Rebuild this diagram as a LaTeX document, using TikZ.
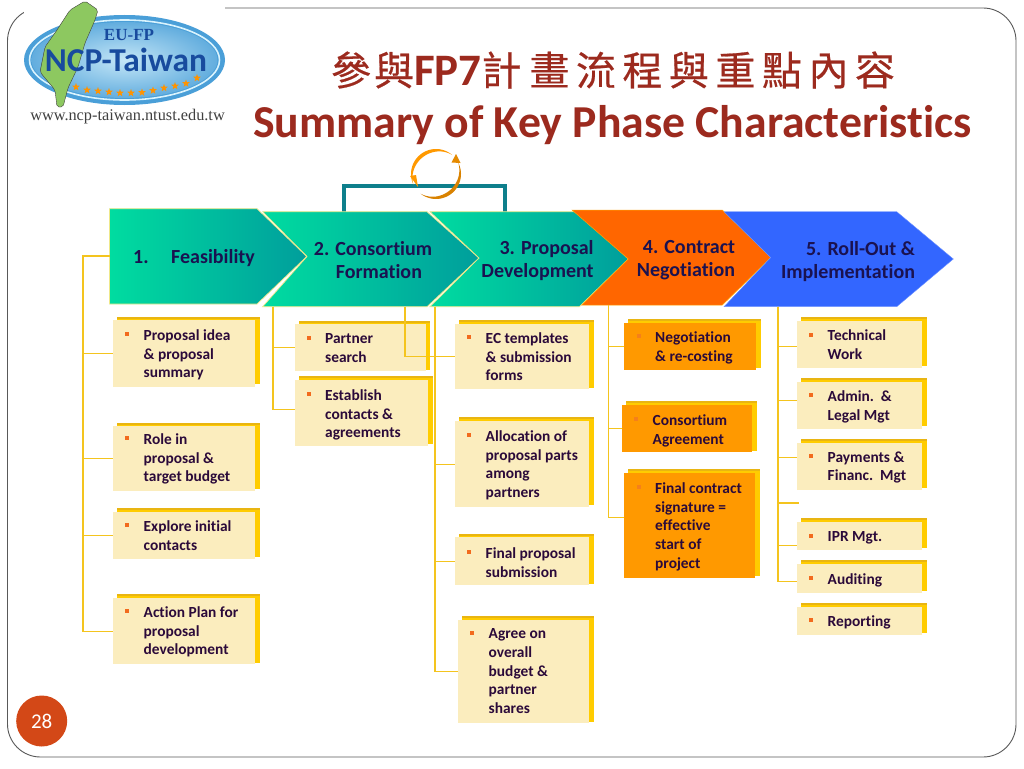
\documentclass[tikz,border=0pt]{standalone}
\usepackage{fontspec}
\setmainfont[Ligatures=NoCommon]{Carlito}
\newfontfamily\cjk[FakeBold=0.5]{Noto Sans CJK TC}
\newfontfamily\srf{Liberation Serif}
\usetikzlibrary{calc,shapes.geometric}
\definecolor{goldl}{HTML}{F4C41E}
\definecolor{goldb}{HTML}{FFCC00}
\definecolor{goldt}{HTML}{E9B512}
\definecolor{cream}{HTML}{FBEDBE}
\definecolor{orgb}{HTML}{FF9900}
\definecolor{ink}{HTML}{2B0A3A}
\definecolor{navy}{HTML}{1A1250}
\definecolor{titlec}{HTML}{9C2A1E}
\definecolor{blt}{HTML}{F26B1D}
\definecolor{blo}{HTML}{F5801A}
\definecolor{teal1}{HTML}{00DCA0}
\definecolor{teal2}{HTML}{009E9C}
\definecolor{bracket}{HTML}{0E7F8C}
\definecolor{edgey}{HTML}{EFE88A}
\definecolor{org4}{HTML}{FF6600}
\definecolor{blue5}{HTML}{3366FF}
\definecolor{logob}{HTML}{184B9E}
\definecolor{island}{HTML}{8DC860}
\definecolor{pagec}{HTML}{D34817}
\definecolor{logoin}{HTML}{C4E6F7}
\definecolor{logoout}{HTML}{4A9FD8}
\tikzset{
 lbl/.style={font=\bfseries\fontsize{15.4}{18.8}\selectfont,text=ink,align=left,anchor=north west,inner sep=0pt},
 blet/.style={fill=#1,draw=none,minimum size=4pt,inner sep=0pt},
 conn/.style={draw=goldl,line width=1.1pt},
 arrtxt/.style={font=\bfseries\fontsize{20}{23}\selectfont,text=navy,inner sep=0pt},
 tealarrow/.style={left color=teal1,middle color=teal1!78!teal2,right color=teal2,draw=edgey,line width=.7pt},
}
% name, fill, front x0 y0 x1 y1, back x1 y0 y1
\newcommand{\bx}[9]{%
 \fill[goldb] (#3+4,#8) rectangle (#7,#9);
 \fill[goldt] (#3+4,#8) rectangle (#7,#8+1.5);
 \node[fill=#2,inner sep=0pt,anchor=north west,minimum width={(#5-#3)*1pt},minimum height={(#6-#4)*1pt}] (#1) at (#3,#4) {};
}
% name, bullet colour, text x, first line centre y, text
\newcommand{\lb}[5]{%
 \node[blet=#2] (#1bl) at (#3-16.5,#4-1) {};
 \node[lbl] (#1tx) at (#3,#4-5.8) {\rule{0pt}{10pt}#5};
}
% tapered arc: colour, from, to
\newcommand{\crescent}[3]{%
 \fill[#1] plot[domain=#2:#3,samples=30,variable=\t] ({436+25*cos(\t)},{174-25*sin(\t)})
   -- plot[domain=#3:#2,samples=30,variable=\t] ({436+(25-3.6*sin(180/(#3-#2)*(\t-#2)))*cos(\t)},{174-(25-3.6*sin(180/(#3-#2)*(\t-#2)))*sin(\t)}) -- cycle;
}
\begin{document}
\begin{tikzpicture}[x=1pt,y=-1pt]
\useasboundingbox (0,0) rectangle (1024,768);
\fill[white] (0,0) rectangle (1024,768);
% frame
\draw[draw=black!65,line width=.9pt,rounded corners=33pt] (7.5,8) rectangle (1016,757);
\fill[white] (24,0) rectangle (225,128);
% logo
\fill[logoout] (124.5,60) ellipse [x radius=100.5pt,y radius=45pt];
\draw[white!85!cyan,line width=1.6pt] (124.5,60) ellipse [x radius=95pt,y radius=40pt];
\shade[inner color=logoin,outer color=logoout!80!logoin] (124.5,60) ellipse [x radius=93pt,y radius=38pt];
\fill[island,draw=black!75,line width=.4pt,rounded corners=2pt] (85,1) -- (98,10) -- (95,20) -- (85,43) -- (78,67) -- (68,88) -- (63,107) -- (57,107) -- (55,90) -- (40,72) -- (45,47) -- (57,30) -- (70,10) -- cycle;
\foreach \i/\xx/\yy in {1/76/87,2/87/90,3/98/91,4/109/92,5/120/93,6/131/93,7/142/92.5,8/153/90.5,9/164/88,10/175/86,11/186/83.5,12/197/78}{
 \node[star,star points=5,star point ratio=2.4,fill=orange!85!yellow,inner sep=0pt,minimum size=8pt] (st\i) at (\xx,\yy) {};
}
\node[font=\bfseries\fontsize{17}{17}\srf,text=logob,inner sep=0pt] (eu) at (129,35) {EU-FP};
\node[font=\bfseries\fontsize{33.4}{30}\selectfont,text=logob,inner sep=0pt] (ncp) at (126,60) {NCP-Taiwan};
\node[font=\fontsize{16.3}{16.3}\srf,text=black!75,inner sep=0pt] (url) at (127.5,117) {www.ncp-taiwan.ntust.edu.tw};
% title
\node[font=\fontsize{40}{40}\selectfont,text=titlec,inner sep=0pt] (t1) at (613,70) {{\cjk 參\hspace{3pt}與}{\fontsize{45}{45}\selectfont\textbf{FP7}}{\cjk 計\hspace{8pt}畫\hspace{6.5pt}流\hspace{6.5pt}程\hspace{6.5pt}與\hspace{6.5pt}重\hspace{6.5pt}點\hspace{6.5pt}內\hspace{6.5pt}容}};
\node[font=\bfseries\fontsize{45.7}{46}\selectfont,text=titlec,inner sep=0pt,anchor=base] (t2) at (612.5,137) {Summary of Key Phase Characteristics};
% bracket
\coordinate (a2top) at (344,212);
\coordinate (a3top) at (505,212);
\draw[bracket,line width=4pt] (a2top) |- (424,186) -| (a3top);
% cycle
\crescent{orgb}{205}{50}
\crescent{orgb!85!black}{232}{388}
\fill[orgb!90!black] (456,154) -- (451.5,162.5) -- (460.5,163) -- cycle;
\fill[orgb] (418,187) -- (410,176) -- (416,175) -- cycle;
% arrows
\shade[tealarrow] (262.7,211.7) -- (427,211.7) -- (479,258) -- (427,306.7) -- (262.7,306.7) -- (307,256.5) -- cycle;
\shade[tealarrow] (430,211.7) -- (579.3,211.7) -- (628.3,259) -- (579.3,306.7) -- (430,306.7) -- (479,258) -- cycle;
\shade[tealarrow] (109.5,208.7) -- (257,208.7) -- (306.7,256.5) -- (257,304) -- (109.5,304) -- cycle;
\fill[org4,draw=orange!70!yellow,line width=.5pt] (572,210) -- (722.3,210) -- (770.7,257.5) -- (722.3,305) -- (581.7,305) -- (628.3,259) -- cycle;
\fill[blue5,draw=blue5!70!white,line width=.4pt] (724,211.7) -- (896.7,211.7) -- (953.3,259) -- (896.7,306.7) -- (724,306.7) -- (770.7,257.5) -- cycle;
\node[arrtxt,anchor=base west] (a1n) at (133,263) {1.};
\node[arrtxt,anchor=base west] (a1t) at (171,263) {Feasibility};
\node[arrtxt,align=left,anchor=center] (a2) at (373,260) {2. Consortium\\\hspace*{22pt}Formation};
\node[arrtxt,align=right,anchor=center] (a3) at (537.5,261) {3. Proposal\\Development};
\node[arrtxt,align=right,anchor=center] (a4) at (686,260) {4. Contract\\Negotiation};
\node[arrtxt,align=right,anchor=center] (a5) at (848,261.5) {5. Roll-Out \&\\Implementation};
% boxes col 1
\bx{b11}{cream}{113}{320}{255}{387}{260}{317}{384}
\bx{b12}{cream}{113}{426}{255}{491}{260}{423}{489}
\bx{b13}{cream}{113}{512}{255}{559}{260}{508}{556.5}
\bx{b14}{cream}{113}{598}{255}{664}{260}{594}{663}
% col 2
\bx{b21}{cream}{295}{324}{426}{371}{430}{321}{370}
\bx{b22}{cream}{295}{380}{428}{446}{433}{376}{444}
% col 3
\bx{b31}{cream}{455}{324}{589}{389}{594}{320}{388}
\bx{b32}{cream}{455}{421}{589}{507}{594}{417}{505}
\bx{b33}{cream}{455}{537}{589}{585}{594}{534}{584}
\bx{b34}{cream}{458}{620}{589}{723}{594}{616}{722}
% col 4
\bx{b41}{orgb}{624}{323}{756}{370}{761}{319}{368}
\bx{b42}{orgb}{622}{405}{752}{452}{757}{401}{451}
\bx{b43}{orgb}{624}{473}{755}{578}{760}{469}{576}
% col 5
\bx{b51}{cream}{797}{321}{922}{368}{927}{317}{366}
\bx{b52}{cream}{797}{382}{922}{429}{927}{378}{426}
\bx{b53}{cream}{797}{443}{922}{490}{927}{439}{488}
\bx{b54}{cream}{797}{522}{922}{550}{927}{518}{548}
\bx{b55}{cream}{797}{564}{922}{593}{927}{560}{591}
\bx{b56}{cream}{797}{607}{922}{635}{927}{603}{633}
% connectors
\coordinate (a1w) at (109.5,256);
\coordinate (c1) at (83,256);
\coordinate (c2) at (273,306.7);
\coordinate (c2b) at (405,306.7);
\coordinate (c3) at (435,306.7);
\coordinate (c4) at (608.5,305);
\coordinate (c5) at (778,306.7);
\coordinate (c5x) at (799,503);
\draw[conn] (a1w) -- (c1) |- (b14.west);
\draw[conn] (c1) |- (b11.west);
\draw[conn] (c1) |- (b12.west);
\draw[conn] (c1) |- (b13.west);
\draw[conn] (c2) |- (b21.west);
\draw[conn] (c2) |- ($(b22.west)+(0,-4)$);
\draw[conn] (c2b) |- (b31.west);
\draw[conn] (c3) |- (b32.west);
\draw[conn] (c3) |- (b33.west);
\draw[conn] (c3) |- (b34.west);
\draw[conn] (c4) |- (b41.west);
\draw[conn] (c4) |- (b42.west);
\draw[conn] (c4) |- ($(b43.west)+(0,-8)$);
\draw[conn] (c5) |- ($(b51.west)+(0,1.5)$);
\draw[conn] (c5) |- ($(b52.west)+(0,-5)$);
\draw[conn] (c5) |- ($(b53.west)+(0,-9)$);
\draw[conn] (c5) |- (c5x);
\draw[conn] (c5) |- ($(b54.west)+(0,9)$);
\draw[conn] (c5) |- ($(b55.west)+(0,2.5)$);
% labels
\lb{b11}{blt}{143.5}{335}{Proposal idea\\\& proposal\\summary}
\lb{b12}{blt}{143.5}{439}{Role in\\proposal \&\\target budget}
\lb{b13}{blt}{143.5}{526}{Explore initial\\contacts}
\lb{b14}{blt}{143.5}{612}{Action Plan for\\proposal\\development}
\lb{b21}{blt}{325}{339}{Partner\\search}
\lb{b22}{blt}{325}{395}{Establish\\contacts \&\\agreements}
\lb{b31}{blt}{485.5}{338}{EC templates\\\& submission\\forms}
\lb{b32}{blt}{485.5}{436}{Allocation of\\proposal parts\\among\\partners}
\lb{b33}{blt}{485.5}{553}{Final proposal\\submission}
\lb{b34}{blt}{488.5}{634}{Agree on\\overall\\budget \&\\partner\\shares}
\lb{b41}{blo}{655}{337}{Negotiation\\\& re-costing}
\lb{b42}{blo}{652.5}{420}{Consortium\\Agreement}
\lb{b43}{blo}{655}{488}{Final contract\\signature =\\effective\\start of\\project}
\lb{b51}{blt}{827.5}{335.5}{Technical\\Work}
\lb{b52}{blt}{827.5}{396}{Admin.\ \ \&\\Legal Mgt}
\lb{b53}{blt}{827.5}{457}{Payments \&\\Financ.\ \ Mgt}
\lb{b54}{blt}{827.5}{537}{IPR Mgt.}
\lb{b55}{blt}{827.5}{579}{Auditing}
\lb{b56}{blt}{827.5}{621}{Reporting}
% page number
\node[circle,fill=pagec,minimum size=51pt,inner sep=0pt,text=white,font=\fontsize{21}{21}\selectfont] (pg) at (41.7,721) {28};
\end{tikzpicture}
\end{document}
